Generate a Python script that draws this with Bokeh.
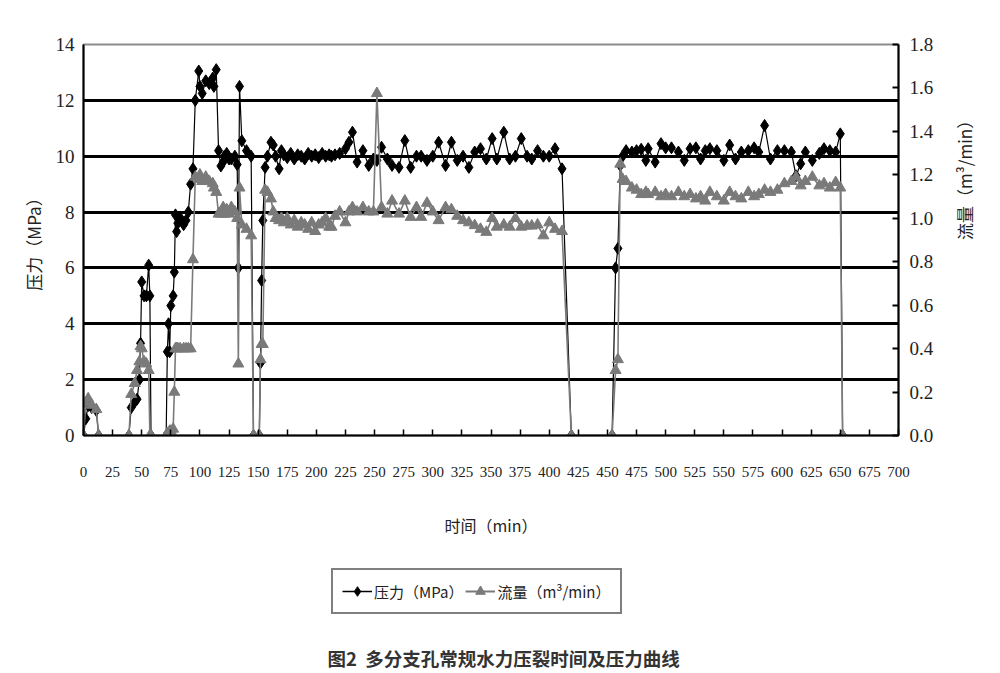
import math
from bokeh.plotting import figure
from bokeh.layouts import column
from bokeh.models import (Range1d, LinearAxis, FixedTicker, Legend, LegendItem,
                          Label, PrintfTickFormatter, ColumnDataSource)
from bokeh.embed import file_html
from bokeh.resources import INLINE

# ---------------- data ----------------
time_min = [
    0, 2, 4, 7, 11, 13, 39, 41, 44, 46,
    48, 49, 50, 52, 54, 56, 57, 58, 71, 72,
    73, 74, 75, 77, 78, 79, 80, 81, 83, 86,
    88, 90, 92, 94, 96, 99, 100, 102, 105, 108,
    111, 112, 114, 116, 118, 120, 121, 123, 125, 127,
    130, 132, 133, 134, 136, 140, 144, 146, 151, 152,
    153, 154, 156, 158, 161, 163, 165, 168, 170, 172,
    175, 178, 181, 184, 187, 190, 193, 196, 199, 202,
    205, 208, 211, 213, 216, 220, 225, 228, 231, 235,
    240, 245, 249, 252, 256, 261, 265, 271, 276, 281,
    286, 290, 295, 300, 305, 311, 316, 321, 326, 331,
    336, 341, 346, 351, 355, 361, 366, 371, 376, 381,
    385, 390, 395, 400, 405, 411, 419, 454, 457, 459,
    461, 463, 466, 471, 475, 479, 483, 485, 491, 496,
    500, 505, 511, 516, 521, 526, 530, 534, 538, 544,
    550, 555, 560, 565, 571, 576, 580, 585, 590, 596,
    602, 608, 612, 616, 620, 626, 632, 636, 641, 646,
    650, 652,
]
pressure_mpa = [
    0, 0.6, 1.07, 1.0, 0.9, 0, 0, 1.0, 1.2, 1.3,
    2.0, 3.3, 5.5, 5.0, 5.0, 6.1, 5.0, 0, 0, 3.0,
    4.0, 3.0, 4.65, 5.0, 5.85, 7.9, 7.3, 7.6, 7.8, 7.55,
    7.7, 8.0, 9.0, 9.55, 12.0, 13.05, 12.5, 12.25, 12.7, 12.6,
    12.8, 12.5, 13.1, 10.2, 9.65, 9.8, 10.0, 10.1, 9.9, 9.9,
    10.0, 9.7, 6.0, 12.5, 10.55, 10.2, 10.0, 0, 0, 2.6,
    5.55, 7.7, 9.6, 10.0, 10.5, 10.4, 10.0, 9.55, 10.2, 10.05,
    9.95, 10.1, 9.9, 10.05, 10.0, 9.9, 10.1, 10.0, 10.05, 9.95,
    10.1, 10.0, 10.05, 10.0, 10.05, 10.1, 10.27, 10.5, 10.86, 9.79,
    10.2, 9.67, 9.9, 9.85, 10.32, 9.9, 9.67, 9.6, 10.56, 9.6,
    10.0, 10.0, 9.85, 10.0, 10.5, 9.67, 10.5, 9.85, 10.0, 9.6,
    10.15, 10.27, 9.9, 10.63, 9.9, 10.86, 9.9, 10.0, 10.63, 10.0,
    9.9, 10.2, 10.0, 10.0, 10.27, 9.55, 0, 0, 6.0, 6.7,
    9.67, 10.0, 10.2, 10.15, 10.2, 10.25, 9.85, 10.27, 9.79, 10.45,
    10.3, 10.3, 10.15, 9.85, 10.27, 10.3, 9.9, 10.2, 10.27, 10.2,
    9.85, 10.4, 9.9, 10.15, 10.2, 10.3, 10.15, 11.1, 9.9, 10.2,
    10.2, 10.15, 9.3, 9.73, 10.15, 9.85, 10.1, 10.27, 10.2, 10.15,
    10.8, 0,
]
flow_m3min = [
    0, 0.15, 0.17, 0.14, 0.12, 0, 0, 0.19, 0.24, 0.30,
    0.34, 0.41, 0.40, 0.34, 0.33, 0.30, 0, 0, 0, 0.01,
    0.01, 0.02, 0.02, 0.03, 0.20, 0.40, 0.40, 0.40, 0.40, 0.40,
    0.40, 0.40, 0.40, 0.81, 1.19, 1.18, 1.20, 1.17, 1.19, 1.17,
    1.16, 1.14, 1.12, 1.02, 1.02, 1.05, 1.02, 1.04, 1.02, 1.05,
    1.03, 1.00, 0.33, 1.14, 0.97, 0.95, 0.92, 0, 0, 0.35,
    0.42, 0.42, 1.13, 1.12, 1.09, 1.03, 1.00, 0.99, 1.00, 0.98,
    1.00, 0.97, 0.99, 0.96, 0.98, 0.97, 0.95, 0.98, 0.94, 0.97,
    0.98, 1.00, 0.96, 0.96, 1.01, 1.03, 0.98, 1.03, 1.05, 1.03,
    1.05, 1.03, 1.03, 1.575, 1.05, 1.02, 1.08, 1.02, 1.08, 1.005,
    1.05, 1.005, 1.07, 1.03, 0.99, 1.05, 1.04, 1.01, 0.99, 0.98,
    0.967, 0.95, 0.936, 1.00, 0.96, 0.97, 0.96, 1.00, 0.96, 0.965,
    0.965, 0.97, 0.92, 0.98, 0.95, 0.94, 0, 0, 0.30, 0.35,
    1.25, 1.18, 1.17, 1.14, 1.13, 1.11, 1.12, 1.11, 1.12, 1.10,
    1.11, 1.10, 1.12, 1.10, 1.11, 1.09, 1.10, 1.08, 1.12, 1.10,
    1.08, 1.12, 1.10, 1.09, 1.12, 1.10, 1.11, 1.13, 1.12, 1.13,
    1.16, 1.17, 1.19, 1.15, 1.17, 1.19, 1.15, 1.16, 1.14, 1.165,
    1.14, 0,
]
x_ticks = list(range(0, 701, 25))
p_ticks = [0, 2, 4, 6, 8, 10, 12, 14]
q_ticks = [0.0, 0.2, 0.4, 0.6, 0.8, 1.0, 1.2, 1.4, 1.6, 1.8]
series_names = ["压力（MPa）", "流量（m³/min）"]
caption_text = "图2\u00a0\u00a0多分支孔常规水力压裂时间及压力曲线"

assert len(time_min) == len(pressure_mpa) == len(flow_m3min)

src = ColumnDataSource(dict(t=time_min, p=pressure_mpa, q=flow_m3min))

SERIF = "Liberation Serif"
CJK = "Noto Sans CJK SC"
GRAY = "#7a7a7a"
W = 990

# ---------------- main chart ----------------
p = figure(frame_width=815, frame_height=391,
           x_range=Range1d(0, 700), y_range=Range1d(0, 14),
           output_backend="svg", toolbar_location=None,
           min_border_left=83, min_border_top=44, min_border_right=92,
           min_border_bottom=115)
p.extra_y_ranges = {"flow": Range1d(0, 1.8)}
p.background_fill_color = "white"
p.border_fill_color = "white"
p.outline_line_color = "#8c8c8c"
p.outline_line_width = 2

p.xgrid.visible = False
p.ygrid.ticker = FixedTicker(ticks=[2, 4, 6, 8, 10, 12])
p.ygrid.grid_line_color = "black"
p.ygrid.grid_line_width = 3

xa = p.xaxis[0]
xa.ticker = FixedTicker(ticks=x_ticks)
xa.major_tick_in = 6
xa.major_tick_out = 0
xa.major_tick_line_width = 1.5
xa.minor_tick_line_color = None
xa.axis_line_width = 2
xa.axis_line_color = "black"
xa.major_label_standoff = 31
xa.major_label_text_font = SERIF
xa.major_label_text_font_size = "15px"
xa.major_label_text_color = "#222222"
xa.axis_label = "时间（min）"
xa.axis_label_text_font = CJK
xa.axis_label_text_font_style = "normal"
xa.axis_label_text_font_size = "16px"
xa.axis_label_text_color = "#222222"
xa.axis_label_standoff = 33

ya = p.yaxis[0]
ya.ticker = FixedTicker(ticks=p_ticks)
ya.major_tick_in = 0
ya.major_tick_out = 0
ya.minor_tick_line_color = None
ya.axis_line_width = 2
ya.axis_line_color = "black"
ya.major_label_standoff = 9
ya.major_label_text_font = SERIF
ya.major_label_text_font_size = "19px"
ya.major_label_text_color = "#222222"
ya.axis_label = series_names[0]
ya.axis_label_text_font = CJK
ya.axis_label_text_font_style = "normal"
ya.axis_label_text_font_size = "17px"
ya.axis_label_text_color = "#222222"
ya.axis_label_standoff = 7

ra = LinearAxis(y_range_name="flow", ticker=FixedTicker(ticks=q_ticks),
                formatter=PrintfTickFormatter(format="%.1f"))
ra.major_tick_in = 6
ra.major_tick_out = 0
ra.major_tick_line_width = 2
ra.minor_tick_line_color = None
ra.axis_line_width = 2
ra.axis_line_color = "black"
ra.major_label_standoff = 11
ra.major_label_text_font = SERIF
ra.major_label_text_font_size = "19px"
ra.major_label_text_color = "#222222"
ra.axis_label = series_names[1]
ra.axis_label_text_font = CJK
ra.axis_label_text_font_style = "normal"
ra.axis_label_text_font_size = "17px"
ra.axis_label_text_color = "#222222"
ra.axis_label_standoff = 28
try:
    ra.axis_label_orientation = math.pi / 2
except Exception:
    pass
p.add_layout(ra, "right")

p.line("t", "p", source=src, line_color="black", line_width=1.2)
p.scatter("t", "p", source=src, marker="diamond", size=12,
          fill_color="black", line_color="black")
p.line("t", "q", source=src, y_range_name="flow", line_color=GRAY,
       line_width=1.6)
p.scatter("t", "q", source=src, y_range_name="flow", marker="triangle",
          size=11, fill_color=GRAY, line_color=GRAY)

# ---------------- legend + caption strip ----------------
H2 = 120
p2 = figure(frame_width=W, frame_height=H2, x_range=Range1d(0, W),
            y_range=Range1d(0, H2), x_axis_type=None, y_axis_type=None,
            output_backend="svg", toolbar_location=None,
            min_border_left=0, min_border_right=0, min_border_top=0,
            min_border_bottom=0)
p2.outline_line_color = None
p2.background_fill_color = "white"
p2.border_fill_color = "white"

# legend-only sample renderers (their single row lies outside the visible range)
dummy = ColumnDataSource(dict(x=[-500], y=[-500]))
l1 = p2.line("x", "y", source=dummy, line_color="black", line_width=1.5)
s1 = p2.scatter("x", "y", source=dummy, marker="diamond", size=12,
                fill_color="black", line_color="black")
l2 = p2.line("x", "y", source=dummy, line_color=GRAY, line_width=2)
s2 = p2.scatter("x", "y", source=dummy, marker="triangle", size=11,
                fill_color=GRAY, line_color=GRAY)

legend = Legend(items=[LegendItem(label=series_names[0], renderers=[l1, s1]),
                       LegendItem(label=series_names[1], renderers=[l2, s2])],
                orientation="horizontal", location=(331, 56),
                border_line_color="black", border_line_width=2,
                background_fill_color="white", background_fill_alpha=1,
                label_text_font=CJK, label_text_font_size="15px",
                label_text_color="#222222",
                glyph_width=30, glyph_height=24, spacing=2, padding=9,
                margin=0, label_standoff=2)
p2.add_layout(legend, "center")

cap = Label(x=244, y=13, text=caption_text, text_align="left",
            text_baseline="middle", text_font=CJK, text_font_size="18.5px",
            text_font_style="bold", text_color="#333333")
p2.add_layout(cap)

layout = column(p, p2, spacing=0)
open("out.html", "w").write(file_html(layout, INLINE))
